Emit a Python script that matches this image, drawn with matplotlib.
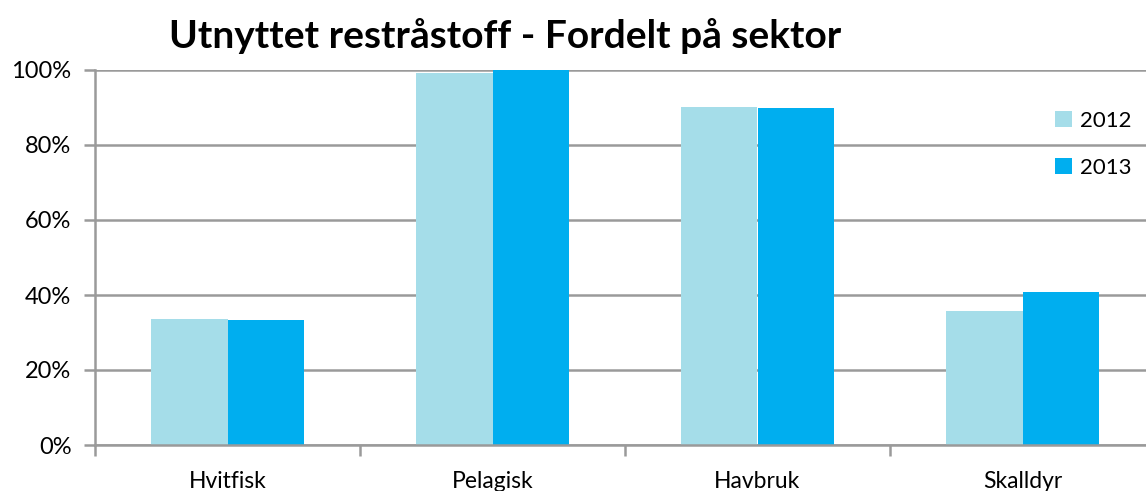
import matplotlib
matplotlib.use('Agg')
import matplotlib.pyplot as plt
from matplotlib.ticker import FixedLocator, FuncFormatter
import numpy as np

plt.rcParams['font.family'] = ['Lato', 'DejaVu Sans']

categories = ['Hvitfisk', 'Pelagisk', 'Havbruk', 'Skalldyr']
years = ['2012', '2013']
v2012 = [0.336, 0.991, 0.900, 0.357]
v2013 = [0.333, 1.000, 0.898, 0.407]
colors = ['#A5DDE9', '#00AEEF']

W, H = 1146, 491
fig = plt.figure(figsize=(W / 100, H / 100), dpi=100)
fig.patch.set_facecolor('white')
ax = fig.add_axes([95 / W, 46 / H, 1060 / W, 375 / H])

x = np.arange(len(categories))
bw = 0.287
ax.bar(x - bw / 2, v2012, bw, color=colors[0], label=years[0], zorder=3)
ax.bar(x + bw / 2, v2013, bw, color=colors[1], label=years[1], zorder=3)

ax.set_xlim(-0.5, len(categories) - 0.5)
ax.set_ylim(0, 1.0)
ax.set_yticks(np.arange(0, 1.01, 0.2))
ax.yaxis.set_major_formatter(FuncFormatter(lambda v, p: f'{v * 100:.0f}%'))
ax.yaxis.grid(True, color='#9a9a9a', linewidth=1.8, zorder=0)
ax.set_axisbelow(True)

ax.set_xticks(x)
ax.set_xticklabels(categories, fontsize=16.5)
ax.xaxis.set_minor_locator(FixedLocator(np.arange(-0.5, len(categories), 1.0)))
ax.tick_params(axis='x', which='major', length=0, pad=19)
ax.tick_params(axis='x', which='minor', length=8, width=1.8, color='#9a9a9a', direction='out')
ax.tick_params(axis='y', length=8, width=1.8, color='#9a9a9a', labelsize=17, pad=9)

for s in ['top', 'right']:
    ax.spines[s].set_visible(False)
for s in ['left', 'bottom']:
    ax.spines[s].set_color('#9a9a9a')
    ax.spines[s].set_linewidth(1.8)
ax.spines['bottom'].set_zorder(4)

fig.text(505 / W, 1 - 36 / H, 'Utnyttet restråstoff - Fordelt på sektor',
         ha='center', va='center', fontsize=28, fontweight='bold')

leg = ax.legend(loc='upper left', bbox_to_anchor=(1046 / W, 1 - 102 / H),
                bbox_transform=fig.transFigure, frameon=False, fontsize=16,
                handlelength=0.75, handleheight=0.75, handletextpad=0.4,
                labelspacing=1.2, borderaxespad=0)

fig.savefig('out.png', dpi=100)
